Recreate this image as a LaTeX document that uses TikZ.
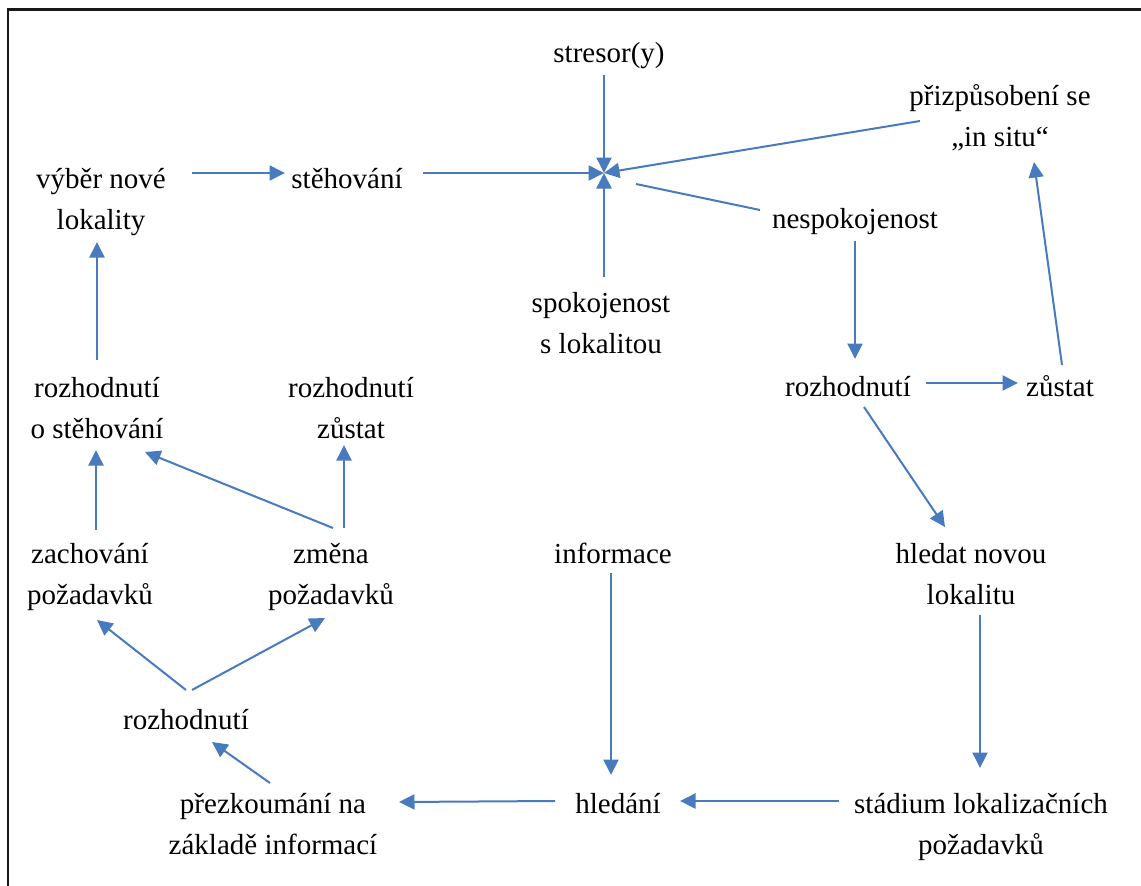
\documentclass[tikz,border=0pt]{standalone}
\usepackage{fontspec}
\setmainfont{Liberation Serif}
\usetikzlibrary{arrows.meta,calc}
\definecolor{arrowblue}{RGB}{72,122,190}
\newcommand{\twoline}[2]{\begin{tabular}[t]{@{}c@{}}#1\\#2\end{tabular}}
\begin{document}
\begin{tikzpicture}[x=1pt,y=-1pt,
  lbl/.style={inner sep=0pt, anchor=base, font=\fontsize{29}{41}\selectfont},
  arr/.style={draw=arrowblue, line width=2pt, -{Triangle[length=15.5pt,width=15pt]}},
  ln/.style={draw=arrowblue, line width=2pt}]
\useasboundingbox (0,0) rectangle (1141,886);
\draw[line width=2.3pt, black!90] (7.8,886) -- (7.8,9.5) -- (1141,9.5);

% labels
\node[lbl] (stresor) at (609,62) {stresor(y)};
\node[lbl] (insitu) at (1000,105) {\twoline{přizpůsobení se}{„in situ“}};
\node[lbl] (vyber) at (101,188) {\twoline{výběr nové}{lokality}};
\node[lbl] (steh) at (347,188) {stěhování};
\node[lbl] (nesp) at (855,228) {nespokojenost};
\node[lbl] (spok) at (601,312) {\twoline{spokojenost}{s lokalitou}};
\node[lbl] (rozR) at (848,396) {rozhodnutí};
\node[lbl] (zust) at (1060,396) {zůstat};
\node[lbl] (rozSt) at (97,397) {\twoline{rozhodnutí}{o stěhování}};
\node[lbl] (rozZ) at (351,397) {\twoline{rozhodnutí}{zůstat}};
\node[lbl] (zach) at (90,563) {\twoline{zachování}{požadavků}};
\node[lbl] (zmena) at (331,563) {\twoline{změna}{požadavků}};
\node[lbl] (info) at (613,563) {informace};
\node[lbl] (hledat) at (971,563) {\twoline{hledat novou}{lokalitu}};
\node[lbl] (rozBL) at (186,729) {rozhodnutí};
\node[lbl] (prez) at (273,813) {\twoline{přezkoumání na}{základě informací}};
\node[lbl] (hled) at (618,813) {hledání};
\node[lbl] (stad) at (981,813) {\twoline{stádium lokalizačních}{požadavků}};
\coordinate (hub) at (604,173);

% connectors
\draw[arr] ($(stresor.base)+(-5,13)$) -- (hub);
\draw[arr] ($(steh.base)+(76,-15)$) -- (hub);
\draw[arr] ($(insitu.base)+(-80,16)$) -- (hub);
\draw[arr] ($(spok.base)+(3,-35)$) -- (hub);
\draw[ln] ($(nesp.base)+(-95,-18)$) -- ($(hub)+(32,11)$);
\draw[arr] ($(vyber.base)+(91,-15)$) -- ($(steh.base)+(-62,-15)$);
\draw[arr] ($(nesp.base)+(0,13)$) -- ($(rozR.base)+(7,-37)$);
\draw[arr] ($(rozR.base)+(78,-13)$) -- ($(zust.base)+(-42,-13)$);
\draw[arr] ($(zust.base)+(2,-31)$) -- ($(insitu.base)+(34,57)$);
\draw[arr] ($(rozR.base)+(16,11)$) -- ($(hledat.base)+(-26,-36)$);
\draw[arr] ($(hledat.base)+(9,52)$) -- ($(stad.base)+(-1,-45)$);
\draw[arr] ($(stad.base)+(-142,-12)$) -- ($(hled.base)+(62,-12)$);
\draw[arr] ($(info.base)+(-2,10)$) -- ($(hled.base)+(-7,-38)$);
\draw[arr] ($(hled.base)+(-63,-12)$) -- ($(prez.base)+(126,-11)$);
\draw[arr] ($(prez.base)+(-3,-30)$) -- ($(rozBL.base)+(26,13)$);
\draw[arr] ($(rozBL.base)+(0,-39)$) -- ($(zach.base)+(7,57)$);
\draw[arr] ($(rozBL.base)+(6,-39)$) -- ($(zmena.base)+(-6,55)$);
\draw[arr] ($(zach.base)+(6,-33)$) -- ($(rozSt.base)+(-1,53)$);
\draw[arr] ($(zmena.base)+(2,-35)$) -- ($(rozSt.base)+(48,55)$);
\draw[arr] ($(zmena.base)+(13,-35)$) -- ($(rozZ.base)+(-7,48)$);
\draw[arr] ($(rozSt.base)+(0,-37)$) -- ($(vyber.base)+(-4,54)$);
\end{tikzpicture}
\end{document}
